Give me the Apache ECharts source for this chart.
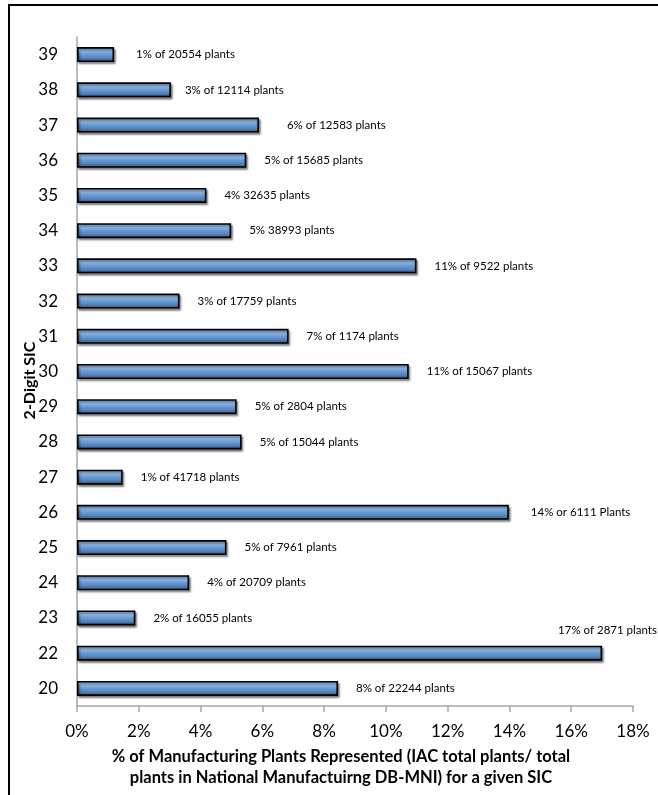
<!DOCTYPE html>
<html>
<head>
<meta charset="utf-8">
<script src="https://cdn.jsdelivr.net/npm/echarts@6/dist/echarts.min.js"></script>
<style>
  html, body { margin: 0; padding: 0; background: #fff; }
  #chart { width: 658px; height: 795px; }
</style>
</head>
<body>
<div id="chart"></div>
<script>
// 2-digit SIC codes, bottom to top
const sicCodes = ['20', '22', '23', '24', '25', '26', '27', '28', '29', '30',
                  '31', '32', '33', '34', '35', '36', '37', '38', '39'];

// Share of plants represented (%), same order as sicCodes
const sharePct = [8.45, 17.0, 1.89, 3.63, 4.84, 13.98, 1.48, 5.33, 5.17, 10.74,
                  6.85, 3.32, 10.99, 4.99, 4.19, 5.48, 5.89, 3.04, 1.2];

// Annotation text for each bar, same order as sicCodes
const barNotes = [
  '8% of 22244 plants', '17% of 2871 plants', '2% of 16055 plants',
  '4% of 20709 plants', '5% of 7961 plants', '14% or 6111 Plants',
  '1% of 41718 plants', '5% of 15044 plants', '5% of 2804 plants',
  '11% of 15067 plants', '7% of 1174 plants', '3% of 17759 plants',
  '11% of 9522 plants', '5% 38993 plants', '4% 32635 plants',
  '5% of 15685 plants', '6% of 12583 plants', '3% of 12114 plants',
  '1% of 20554 plants'
];

// Axis tick values (%)
const xTicks = [0, 2, 4, 6, 8, 10, 12, 14, 16, 18];

const FONT = 'Lato, "Open Sans", sans-serif';

// Hand-placed annotation nudges (px) for a few bars
const labelNudge = {
  '22': [-62, -23],
  '37': [10, 0],
  '39': [4, 0],
  '26': [4, 0],
  '38': [-4, 0]
};

const barFill = new echarts.graphic.LinearGradient(0, 0, 0, 1, [
  { offset: 0.0, color: '#3d6ba3' },
  { offset: 0.18, color: '#a9cbef' },
  { offset: 0.45, color: '#6f9fd6' },
  { offset: 0.75, color: '#4f81bd' },
  { offset: 1.0, color: '#2b4d78' }
]);

const seriesData = sharePct.map((v, i) => {
  const item = { value: v, note: barNotes[i] };
  const nudge = labelNudge[sicCodes[i]];
  if (nudge) item.label = { offset: nudge };
  return item;
});

const chart = echarts.init(document.getElementById('chart'), null, { renderer: 'canvas' });

chart.setOption({
  animation: false,
  backgroundColor: '#ffffff',
  grid: { left: 77, right: 25, top: 37, bottom: 89, containLabel: false },
  xAxis: {
    type: 'value',
    min: xTicks[0],
    max: xTicks[xTicks.length - 1],
    interval: 2,
    axisLine: { show: true, lineStyle: { color: '#a6a6a6', width: 1.5 } },
    axisTick: { show: true, length: 6, lineStyle: { color: '#a6a6a6', width: 1.5 } },
    splitLine: { show: false },
    axisLabel: {
      margin: 17,
      fontFamily: FONT,
      fontSize: 17,
      color: '#000',
      formatter: v => v + '%'
    },
    name: '% of Manufacturing Plants Represented (IAC total plants/ total\nplants in National Manufactuirng DB-MNI) for a given SIC',
    nameLocation: 'middle',
    nameGap: 40,
    nameMoveOverlap: false,
    nameTextStyle: {
      fontFamily: FONT,
      fontWeight: 'bold',
      fontSize: 16.5,
      lineHeight: 21,
      color: '#000',
      padding: [0, 28, 0, 0]
    }
  },
  yAxis: {
    type: 'category',
    data: sicCodes,
    axisLine: { show: true, lineStyle: { color: '#a6a6a6', width: 1.5 } },
    axisTick: { show: false },
    axisLabel: {
      margin: 19,
      fontFamily: FONT,
      fontSize: 17,
      color: '#000'
    },
    name: '2-Digit SIC',
    nameLocation: 'middle',
    nameGap: 39,
    nameMoveOverlap: false,
    nameTextStyle: {
      fontFamily: FONT,
      fontWeight: 'bold',
      fontSize: 16,
      color: '#000',
      padding: [0, 18, 0, 0]
    }
  },
  series: [{
    type: 'bar',
    data: seriesData,
    barWidth: 15,
    itemStyle: {
      color: barFill,
      borderColor: '#000',
      borderWidth: 1.6,
      shadowColor: 'rgba(0,0,0,0.45)',
      shadowBlur: 2,
      shadowOffsetX: 1.5,
      shadowOffsetY: 2
    },
    label: {
      show: true,
      position: 'right',
      distance: 18,
      fontFamily: FONT,
      fontSize: 11.5,
      color: '#000',
      formatter: p => p.data.note
    }
  }],
  graphic: [{
    type: 'rect',
    silent: true,
    shape: { x: 9, y: 5, width: 800, height: 900 },
    style: { fill: 'none', stroke: '#000', lineWidth: 2 }
  }]
});
</script>
</body>
</html>
